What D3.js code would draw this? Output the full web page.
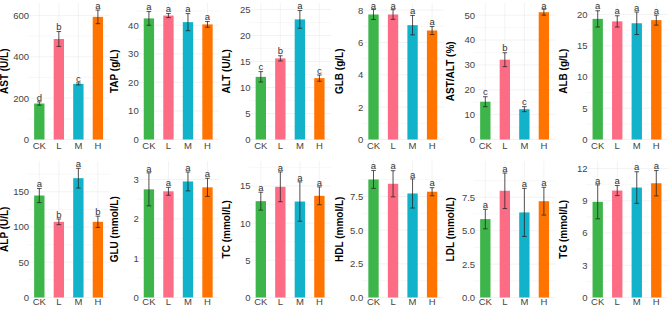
<!DOCTYPE html>
<html>
<head>
<meta charset="utf-8">
<script src="https://cdn.jsdelivr.net/npm/d3@7"></script>
<style>
	body { margin: 0; background: #fff; }
	svg { display: block; font-family: "Liberation Sans", Arial, sans-serif; }
	.grid line { stroke: #ebebeb; stroke-width: 0.6; }
	.grid line.minor { stroke: #f4f4f4; }
	.tick-lab { fill: #444; font-size: 9.5px; }
	.ytitle { fill: #000; font-size: 10px; font-weight: bold; }
	.sig { fill: #333; font-size: 9.5px; }
</style>
</head>
<body>
<svg width="669" height="309"></svg>
<script>
// groups and colours
var groups = ["CK", "L", "M", "H"];
var colors = ["#3db54a", "#fc6c85", "#12b2cb", "#ff7300"];

// one entry per panel, row by row
var titles = ["AST (U/L)", "TAP (g/L)", "ALT (U/L)", "GLB (g/L)", "AST/ALT (%)", "ALB (g/L)",
	"ALP (U/L)", "GLU (mmol/L)", "TC (mmol/L)", "HDL (mmol/L)", "LDL (mmol/L)", "TG (mmol/L)"];

var means = [
	[174, 486, 269, 593],
	[42.4, 43.4, 41.1, 40.3],
	[12.05, 15.6, 23.1, 11.8],
	[7.73, 7.73, 7.07, 6.74],
	[15.2, 32.1, 12.2, 51.2],
	[19.3, 18.9, 18.6, 19.1],
	[144.7, 107.4, 169.3, 107.4],
	[2.75, 2.70, 2.95, 2.80],
	[12.95, 14.88, 12.9, 13.67],
	[8.76, 8.44, 7.72, 7.85],
	[5.87, 7.99, 6.37, 7.21],
	[8.9, 9.95, 10.23, 10.63]
];

var sds = [
	[8, 36, 5, 33],
	[2.4, 0.7, 3.0, 1.0],
	[1.0, 0.5, 1.7, 0.6],
	[0.31, 0.3, 0.6, 0.25],
	[2.0, 2.8, 1.0, 1.2],
	[1.3, 0.9, 1.8, 0.8],
	[10, 4, 14, 8],
	[0.42, 0.1, 0.24, 0.23],
	[1.2, 2.0, 2.65, 1.2],
	[0.66, 0.97, 1.08, 0.3],
	[0.73, 1.33, 1.8, 1.04],
	[1.58, 0.47, 1.47, 1.18]
];

var letters = [
	["d", "b", "c", "a"],
	["a", "a", "a", "a"],
	["c", "b", "a", "c"],
	["a", "a", "a", "a"],
	["c", "b", "c", "a"],
	["a", "a", "a", "a"],
	["a", "b", "a", "b"],
	["a", "a", "a", "a"],
	["a", "a", "a", "a"],
	["a", "a", "a", "a"],
	["a", "a", "a", "a"],
	["a", "a", "a", "a"]
];

var ticks = [
	[0, 200, 400, 600],
	[0, 10, 20, 30, 40],
	[0, 5, 10, 15, 20, 25],
	[0, 2, 4, 6, 8],
	[0, 10, 20, 30, 40, 50],
	[0, 5, 10, 15, 20],
	[0, 50, 100, 150],
	[0, 1, 2, 3],
	[0, 5, 10, 15],
	[0, 2.5, 5, 7.5],
	[0, 2.5, 5, 7.5],
	[0, 3, 6, 9, 12]
];

// top of each y scale
var yMax = [660, 47.8, 26.25, 8.44, 54.9, 21.84, 193.7, 3.47, 18.35, 10.13, 10.22, 12.7];

// layout
var svg = d3.select("svg");
var colLeft = [27.6, 137.2, 249.1, 361.8, 473.6, 586];
var panelW = 82;
var rowBottom = [139.5, 297.5];
var rowTop = [3, 161];

titles.forEach(function (title, i) {
	var col = i % 6, row = Math.floor(i / 6);
	var left = colLeft[col];
	var x = d3.scalePoint().domain(groups).range([left, left + panelW]).padding(0.6);
	var y = d3.scaleLinear().domain([0, yMax[i]]).range([rowBottom[row], rowTop[row]]);
	var bw = x.step() * 0.53;
	var fmt = (i == 9 || i == 10) ? d3.format(".1f") : d3.format("d");
	var g = svg.append("g");

	// grid
	var grid = g.append("g").attr("class", "grid");
	var minor = ticks[i].map(function (t, k) { return k < ticks[i].length - 1 ? (t + ticks[i][k + 1]) / 2 : null; })
		.filter(function (t) { return t !== null; });
	var step = ticks[i][1] - ticks[i][0];
	if (ticks[i][ticks[i].length - 1] + step / 2 < yMax[i]) minor.push(ticks[i][ticks[i].length - 1] + step / 2);
	grid.selectAll("line.minor").data(minor).enter().append("line")
		.attr("class", "minor")
		.attr("x1", left).attr("x2", left + panelW)
		.attr("y1", function (d) { return y(d); }).attr("y2", function (d) { return y(d); });
	grid.selectAll("line.major").data(ticks[i]).enter().append("line")
		.attr("class", "major")
		.attr("x1", left).attr("x2", left + panelW)
		.attr("y1", function (d) { return y(d); }).attr("y2", function (d) { return y(d); });
	grid.selectAll("line.vx").data(groups).enter().append("line")
		.attr("class", "vx")
		.attr("x1", function (d) { return x(d); }).attr("x2", function (d) { return x(d); })
		.attr("y1", rowTop[row]).attr("y2", rowBottom[row]);

	// bars
	g.selectAll("rect").data(groups).enter().append("rect")
		.attr("x", function (d) { return x(d) - bw / 2; })
		.attr("width", bw)
		.attr("y", function (d, k) { return y(means[i][k]); })
		.attr("height", function (d, k) { return y(0) - y(means[i][k]); })
		.attr("fill", function (d, k) { return colors[k]; });

	// error bars
	var eb = g.selectAll("g.eb").data(groups).enter().append("g")
		.attr("class", "eb")
		.attr("stroke", "#222").attr("stroke-width", 0.9).attr("stroke-opacity", 0.85);
	eb.append("line")
		.attr("x1", function (d) { return x(d); }).attr("x2", function (d) { return x(d); })
		.attr("y1", function (d, k) { return y(means[i][k] + sds[i][k]); })
		.attr("y2", function (d, k) { return y(means[i][k] - sds[i][k]); });
	[1, -1].forEach(function (s) {
		eb.append("line")
			.attr("x1", function (d) { return x(d) - 2.3; }).attr("x2", function (d) { return x(d) + 2.3; })
			.attr("y1", function (d, k) { return y(means[i][k] + s * sds[i][k]); })
			.attr("y2", function (d, k) { return y(means[i][k] + s * sds[i][k]); });
	});

	// significance letters, kept inside the picture
	g.selectAll("text.sig").data(groups).enter().append("text")
		.attr("class", "sig")
		.attr("text-anchor", "middle")
		.attr("x", function (d) { return x(d); })
		.attr("y", function (d, k) { return Math.max(y(means[i][k] + sds[i][k]) - 1.3, 8.5); })
		.text(function (d, k) { return letters[i][k]; });

	// y tick labels
	g.selectAll("text.ylab").data(ticks[i]).enter().append("text")
		.attr("class", "tick-lab")
		.attr("text-anchor", "end")
		.attr("x", left + 1.5)
		.attr("y", function (d) { return y(d); })
		.attr("dy", "0.36em")
		.text(fmt);

	// x tick labels
	g.selectAll("text.xlab").data(groups).enter().append("text")
		.attr("class", "tick-lab")
		.attr("text-anchor", "middle")
		.attr("x", function (d) { return x(d); })
		.attr("y", rowBottom[row] + (row == 0 ? 9.5 : 7.5))
		.text(function (d) { return d; });

	// y title
	g.append("text")
		.attr("class", "ytitle")
		.attr("text-anchor", "middle")
		.attr("transform", "translate(" + (x("CK") - 31) + "," + ((rowTop[row] + rowBottom[row]) / 2) + ") rotate(-90)")
		.text(title);
});
</script>
</body>
</html>
